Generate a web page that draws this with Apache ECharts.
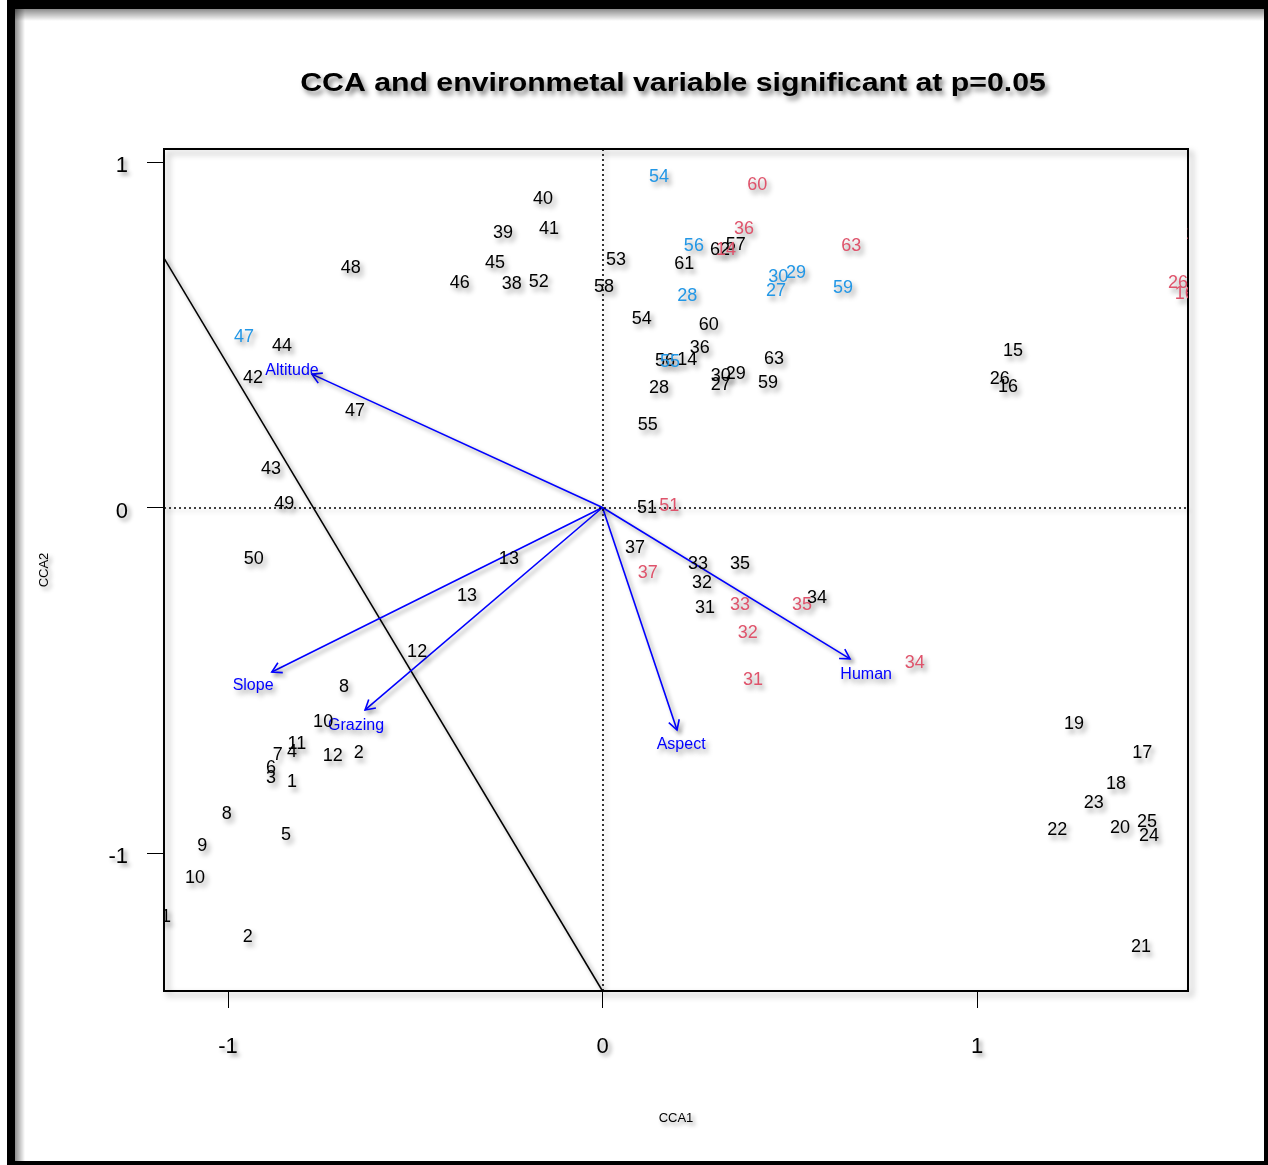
<!DOCTYPE html>
<html><head><meta charset="utf-8">
<script src="https://cdn.jsdelivr.net/npm/echarts@6/dist/echarts.min.js"></script>
<style>html,body{margin:0;padding:0;background:#fff}#c{width:1268px;height:1165px}</style>
</head><body><div id="c"></div>
<script>
const titleText = 'CCA and environmetal variable significant at p=0.05';
const xAxisName = 'CCA1';
const yAxisName = 'CCA2';
const xTicks = [-1, 0, 1];
const yTicks = [-1, 0, 1];
const xRange = [-1.1709, 1.5634];
const yRange = [-1.3994, 1.0376];

// black labels (sites)
const sitesBlack = [
  ['40',-0.159,0.893],['39',-0.266,0.794],['41',-0.143,0.806],['48',-0.672,0.693],
  ['45',-0.287,0.708],['46',-0.381,0.650],['38',-0.242,0.647],['52',-0.170,0.653],
  ['44',-0.856,0.467],['42',-0.933,0.375],['47',-0.661,0.279],['53',0.036,0.716],
  ['58',0.004,0.638],['61',0.218,0.705],['62',0.314,0.745],['57',0.356,0.760],
  ['54',0.105,0.545],['60',0.284,0.528],['36',0.260,0.462],['56',0.167,0.424],
  ['14',0.226,0.427],['63',0.458,0.430],['15',1.096,0.453],['30',0.316,0.381],
  ['29',0.356,0.386],['27',0.316,0.354],['59',0.442,0.360],['26',1.061,0.372],
  ['16',1.083,0.349],['28',0.151,0.346],['55',0.121,0.239],['43',-0.885,0.111],
  ['49',-0.850,0.010],['50',-0.931,-0.149],['13',-0.250,-0.149],['13',-0.362,-0.256],
  ['12',-0.495,-0.418],['8',-0.690,-0.520],['10',-0.746,-0.621],['11',-0.816,-0.685],
  ['7',-0.867,-0.716],['4',-0.829,-0.708],['12',-0.720,-0.719],['2',-0.651,-0.710],
  ['6',-0.885,-0.754],['3',-0.885,-0.783],['1',-0.829,-0.795],['8',-1.003,-0.887],
  ['5',-0.845,-0.948],['9',-1.069,-0.980],['10',-1.088,-1.072],['11',-1.177,-1.185],
  ['2',-0.947,-1.243],['51',0.119,-0.002],['37',0.087,-0.117],['33',0.255,-0.164],
  ['35',0.367,-0.164],['32',0.266,-0.219],['34',0.573,-0.262],['31',0.274,-0.291],
  ['19',1.259,-0.627],['17',1.441,-0.711],['18',1.371,-0.800],['23',1.312,-0.855],
  ['22',1.214,-0.934],['20',1.382,-0.928],['25',1.454,-0.910],['24',1.459,-0.951],
  ['21',1.438,-1.272]
];
// red labels
const pointsRed = [
  ['60',0.413,0.933],['36',0.378,0.806],['14',0.330,0.745],['63',0.664,0.757],
  ['26',1.537,0.650],['16',1.555,0.618],['15',1.585,0.791],['51',0.178,0.004],
  ['37',0.121,-0.190],['33',0.367,-0.282],['35',0.533,-0.282],['32',0.388,-0.363],
  ['34',0.834,-0.450],['31',0.402,-0.499]
];
// blue labels
const pointsBlue = [
  ['54',0.151,0.956],['56',0.244,0.757],['30',0.469,0.667],['29',0.517,0.679],
  ['27',0.463,0.627],['59',0.642,0.635],['28',0.226,0.612],['47',-0.957,0.493],
  ['55',0.180,0.421]
];
// environmental vectors
const envNames = ['Altitude','Slope','Grazing','Aspect','Human'];
const envX = [-0.776,-0.883,-0.634,0.199,0.661];
const envY = [0.386,-0.476,-0.586,-0.644,-0.438];
const envLabelX = [-0.829,-0.933,-0.658,0.210,0.704];
const envLabelY = [0.396,-0.516,-0.632,-0.687,-0.484];
// straight separating line
const sepLine = [[-1.1709,0.722],[0,-1.3994]];

const FONT = '"Liberation Sans", Arial, Helvetica, sans-serif';
const SH = 'rgba(0,0,0,0.42)';

function labelSeries(arr, color, z) {
  return {
    type: 'custom', clip: true, z: z,
    data: arr.map(d => [d[1], d[2]]),
    encode: {x: 0, y: 1},
    renderItem: function (params, api) {
      const p = api.coord([api.value(0), api.value(1)]);
      return {
        type: 'text', x: p[0], y: p[1],
        style: {
          text: arr[params.dataIndex][0], fill: color,
          font: '18px ' + FONT, align: 'center', verticalAlign: 'middle',
          textShadowColor: SH, textShadowBlur: 5, textShadowOffsetX: 3, textShadowOffsetY: 4
        }
      };
    }
  };
}

const chart = echarts.init(document.getElementById('c'), null, {renderer: 'canvas'});
const option = {
  backgroundColor: '#fff',
  animation: false,
  grid: {
    left: 164, top: 149, width: 1024, height: 842, show: true,
    borderColor: '#000', borderWidth: 2, backgroundColor: 'transparent',
    shadowColor: 'rgba(0,0,0,0.35)', shadowBlur: 6, shadowOffsetX: 4, shadowOffsetY: 4
  },
  xAxis: {
    type: 'value', min: xRange[0], max: xRange[1],
    splitLine: {show: false},
    axisLine: {show: false, onZero: false},
    axisTick: {show: true, inside: false, length: 17, customValues: xTicks, lineStyle: {color: '#000', width: 1}},
    axisLabel: {customValues: xTicks, margin: 45, fontSize: 22, color: '#000', fontFamily: FONT,
      textShadowColor: SH, textShadowBlur: 4, textShadowOffsetX: 3, textShadowOffsetY: 3,
      formatter: v => String(Math.round(v))},
    name: xAxisName, nameLocation: 'middle', nameGap: 121,
    nameTextStyle: {fontSize: 13, color: '#000', fontFamily: FONT,
      textShadowColor: SH, textShadowBlur: 4, textShadowOffsetX: 3, textShadowOffsetY: 3}
  },
  yAxis: {
    type: 'value', min: yRange[0], max: yRange[1],
    splitLine: {show: false},
    axisLine: {show: false, onZero: false},
    axisTick: {show: true, inside: false, length: 17, customValues: yTicks, lineStyle: {color: '#000', width: 1}},
    axisLabel: {customValues: yTicks, margin: 36, fontSize: 22, color: '#000', fontFamily: FONT,
      verticalAlign: 'top', lineHeight: 8,
      textShadowColor: SH, textShadowBlur: 4, textShadowOffsetX: 3, textShadowOffsetY: 3,
      formatter: v => String(Math.round(v))},
    name: yAxisName, nameLocation: 'middle', nameGap: 113, nameRotate: 90,
    nameTextStyle: {fontSize: 13, color: '#000', fontFamily: FONT,
      textShadowColor: SH, textShadowBlur: 4, textShadowOffsetX: 3, textShadowOffsetY: 3}
  },
  graphic: [
    {type: 'rect', shape: {x: 7, y: 0, width: 1261, height: 9}, style: {fill: '#000'}, z: 100},
    {type: 'rect', shape: {x: 7, y: 0, width: 8, height: 1165}, style: {fill: '#000'}, z: 100},
    {type: 'rect', shape: {x: 1264, y: 0, width: 4, height: 1165}, style: {fill: '#000'}, z: 100},
    {type: 'rect', shape: {x: 7, y: 1161, width: 1261, height: 4}, style: {fill: '#000'}, z: 100},
    {type: 'rect', shape: {x: 15, y: 9, width: 1249, height: 12},
      style: {fill: {type: 'linear', x: 0, y: 0, x2: 0, y2: 1, colorStops: [{offset: 0, color: 'rgba(0,0,0,0.45)'}, {offset: 1, color: 'rgba(0,0,0,0)'}]}}, z: 99},
    {type: 'rect', shape: {x: 15, y: 9, width: 10, height: 1152},
      style: {fill: {type: 'linear', x: 0, y: 0, x2: 1, y2: 0, colorStops: [{offset: 0, color: 'rgba(0,0,0,0.45)'}, {offset: 1, color: 'rgba(0,0,0,0)'}]}}, z: 99},
    {type: 'text', x: 673, y: 84, scaleX: 1.21,
      style: {text: titleText, font: 'bold 25px ' + FONT, fill: '#000', align: 'center', verticalAlign: 'middle',
        textShadowColor: 'rgba(0,0,0,0.5)', textShadowBlur: 5, textShadowOffsetX: 3, textShadowOffsetY: 4}, z: 100}
  ],
  series: [
    {
      type: 'line', data: sepLine, symbol: 'none', silent: true, z: 2,
      lineStyle: {color: '#000', width: 1.5, shadowColor: SH, shadowBlur: 4, shadowOffsetX: 3, shadowOffsetY: 3},
      markLine: {
        silent: true, symbol: 'none', label: {show: false},
        lineStyle: {color: '#000', width: 1.6, type: [2, 3], shadowColor: 'rgba(0,0,0,0.3)', shadowBlur: 4, shadowOffsetX: 3, shadowOffsetY: 3},
        emphasis: {disabled: true},
        data: [{xAxis: 0}, {yAxis: 0}]
      }
    },
    {
      type: 'custom', clip: true, z: 3,
      data: envNames.map((n, i) => [envX[i], envY[i]]),
      encode: {x: 0, y: 1},
      renderItem: function (params, api) {
        const o = api.coord([0, 0]);
        const t = api.coord([api.value(0), api.value(1)]);
        const ang = Math.atan2(t[1] - o[1], t[0] - o[0]);
        const L = 11, a = Math.PI / 6;
        const p1 = [t[0] - L * Math.cos(ang - a), t[1] - L * Math.sin(ang - a)];
        const p2 = [t[0] - L * Math.cos(ang + a), t[1] - L * Math.sin(ang + a)];
        const st = {stroke: '#0000ff', lineWidth: 1.6, fill: null,
          shadowColor: SH, shadowBlur: 4, shadowOffsetX: 3, shadowOffsetY: 3};
        return {type: 'group', children: [
          {type: 'line', shape: {x1: o[0], y1: o[1], x2: t[0], y2: t[1]}, style: st},
          {type: 'polyline', shape: {points: [p1, t, p2]}, style: st}
        ]};
      }
    },
    {
      type: 'custom', clip: true, z: 4,
      data: envNames.map((n, i) => [envLabelX[i], envLabelY[i]]),
      encode: {x: 0, y: 1},
      renderItem: function (params, api) {
        const p = api.coord([api.value(0), api.value(1)]);
        return {type: 'text', x: p[0], y: p[1], style: {
          text: envNames[params.dataIndex], fill: '#0000ff', font: '16px ' + FONT,
          align: 'center', verticalAlign: 'middle',
          textShadowColor: SH, textShadowBlur: 5, textShadowOffsetX: 3, textShadowOffsetY: 4}};
      }
    },
    labelSeries(sitesBlack, '#000000', 5),
    labelSeries(pointsRed, '#DF536B', 6),
    labelSeries(pointsBlue, '#2297E6', 7)
  ]
};
chart.setOption(option);
</script></body></html>
